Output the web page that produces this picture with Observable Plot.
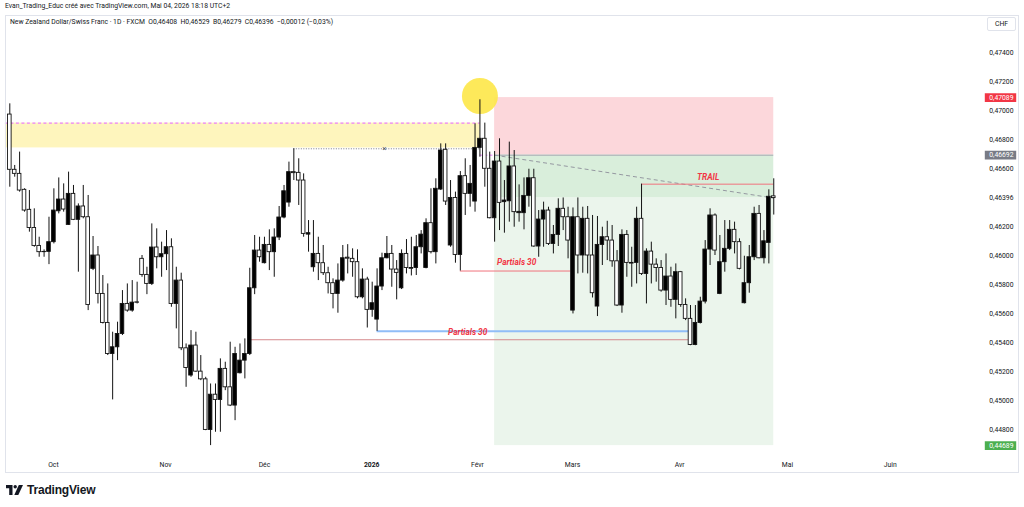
<!DOCTYPE html>
<html>
<head>
<meta charset="utf-8">
<script src="https://cdn.jsdelivr.net/npm/d3@7"></script>
<script src="https://cdn.jsdelivr.net/npm/@observablehq/plot@0.6"></script>
<style>
html,body{margin:0;padding:0;background:#fff;}
#wrap{position:relative;width:1024px;height:507px;overflow:hidden;font-family:Roboto,"Liberation Sans",sans-serif;color:#131722;}
#chart{position:absolute;left:0;top:0;}
#frame{position:absolute;left:5px;top:15px;width:1014px;height:458px;border:1px solid #e0e3eb;box-sizing:border-box;pointer-events:none;}
#credit{position:absolute;left:5px;top:1px;font-size:6.8px;line-height:10px;white-space:nowrap;}
#legend{position:absolute;left:10px;top:17px;font-size:6.8px;line-height:10px;white-space:nowrap;}
#chf{position:absolute;left:987px;top:17px;width:29px;height:14px;border:1px solid #e0e3eb;box-sizing:border-box;border-radius:2px;font-size:6.8px;line-height:12px;text-align:center;background:#fff;}
#logo{position:absolute;left:6px;top:483px;display:flex;align-items:center;gap:4px;font-family:"Liberation Sans",Roboto,sans-serif;font-weight:bold;font-size:12px;letter-spacing:-0.2px;color:#131722;}
</style>
</head>
<body>
<div id="wrap">
  <div id="chart"></div>
  <div id="frame"></div>
  <div id="credit">Evan_Trading_Educ créé avec TradingView.com, Mai 04, 2026 18:18 UTC+2</div>
  <div id="legend">New Zealand Dollar/Swiss Franc · 1D · FXCM &nbsp;O0,46408 &nbsp;H0,46529 &nbsp;B0,46279 &nbsp;C0,46396 &nbsp;−0,00012 (−0,03%)</div>
  <div id="chf">CHF</div>
  <div id="logo"><svg width="17" height="10" viewBox="0 0 17 10"><path d="M0 0H6.5V10H3.2V3.2H0Z" fill="#131722"/><circle cx="9.2" cy="1.7" r="1.7" fill="#131722"/><path d="M12.8 0H17L12.3 10H8.3Z" fill="#131722"/></svg><span>TradingView</span></div>
</div>
<script>
// ---- Daily candles NZD/CHF (index 0 = first visible bar, mid-Sept 2025) ----
const open = [0.46972,0.46591,0.46563,0.46453,0.46315,0.46190,0.46066,0.46023,0.46025,0.46092,
0.46305,0.46386,0.46211,0.46425,0.46246,0.46338,0.46264,0.45908,0.46000,0.45735,
0.45535,0.45321,0.45367,0.45459,0.45666,0.45620,0.45677,0.45977,0.45866,0.45804,
0.46055,0.45988,0.46009,0.46057,0.45666,0.45827,0.45360,0.45172,0.45379,0.45199,
0.45146,0.44797,0.45040,0.45004,0.45218,0.45091,0.44965,0.45188,0.45275,0.45321,
0.45774,0.46034,0.45947,0.46073,0.46023,0.46124,0.46262,0.46365,0.46575,0.46570,
0.46517,0.46144,0.45919,0.46011,0.45947,0.45878,0.45809,0.45735,0.45827,0.45985,
0.45977,0.45954,0.45712,0.45834,0.45625,0.45558,0.45786,0.45981,0.46011,0.45903,
0.45774,0.46011,0.45914,0.45914,0.46057,0.45914,0.46223,0.46023,0.46455,0.46729,
0.46069,0.46397,0.46004,0.46547,0.46425,0.46372,0.46742,0.46805,0.46598,0.46257,
0.46648,0.46368,0.46374,0.46614,0.46292,0.46292,0.46411,0.46533,0.46062,0.46248,
0.46310,0.46080,0.46142,0.46322,0.46264,0.45620,0.46264,0.46000,0.46253,0.46000,
0.45648,0.46073,0.46126,0.46103,0.45960,0.45655,0.46142,0.45949,0.45949,0.46253,
0.45873,0.46027,0.45937,0.45914,0.45758,0.45855,0.45694,0.45885,0.45659,0.45563,
0.45383,0.45535,0.45682,0.46041,0.46276,0.45735,0.45954,0.46046,0.46177,0.46092,
0.45671,0.45809,0.45988,0.46287,0.45981,0.46087,0.46408];
const high = [0.47046,0.46621,0.46713,0.46460,0.46448,0.46322,0.46126,0.46039,0.46264,0.46460,
0.46535,0.46494,0.46575,0.46483,0.46356,0.46483,0.46414,0.46131,0.46062,0.45862,
0.45804,0.45471,0.45540,0.45758,0.45804,0.45827,0.45816,0.46000,0.45919,0.46218,
0.46184,0.46092,0.46172,0.46115,0.45919,0.45878,0.45390,0.45482,0.45471,0.45310,
0.45160,0.45114,0.45114,0.45287,0.45264,0.45402,0.45367,0.45390,0.45425,0.45912,
0.46138,0.46126,0.46126,0.46177,0.46184,0.46338,0.46483,0.46644,0.46736,0.46667,
0.46563,0.46241,0.46241,0.46126,0.46069,0.45919,0.45839,0.45942,0.46069,0.46075,
0.46046,0.46039,0.45908,0.45850,0.45816,0.45908,0.46016,0.46131,0.46069,0.45965,
0.46039,0.46110,0.46126,0.46138,0.46172,0.46253,0.46460,0.46529,0.46770,0.46770,
0.46517,0.46437,0.46579,0.46667,0.46621,0.46908,0.47074,0.46913,0.46713,0.46717,
0.46805,0.46517,0.46782,0.46724,0.46487,0.46535,0.46595,0.46595,0.46310,0.46368,
0.46333,0.46207,0.46391,0.46397,0.46333,0.46328,0.46397,0.46333,0.46338,0.46276,
0.46269,0.46195,0.46236,0.46207,0.46034,0.46177,0.46172,0.46057,0.46333,0.46492,
0.46046,0.46092,0.45977,0.45965,0.46011,0.45919,0.45942,0.45890,0.45701,0.45655,
0.45655,0.45712,0.46103,0.46322,0.46287,0.46138,0.46241,0.46241,0.46230,0.46115,
0.45995,0.46069,0.46333,0.46345,0.46172,0.46453,0.46529];
const low = [0.46471,0.46540,0.46437,0.46299,0.46161,0.46057,0.45988,0.45988,0.45937,0.46080,
0.46287,0.46299,0.46207,0.46241,0.45885,0.46253,0.45620,0.45896,0.45666,0.45528,
0.45310,0.45004,0.45275,0.45448,0.45609,0.45609,0.45666,0.45850,0.45730,0.45793,
0.45908,0.45850,0.45896,0.45643,0.45494,0.45344,0.45091,0.45160,0.45195,0.45137,
0.44792,0.44689,0.44781,0.44781,0.45068,0.44958,0.44861,0.45183,0.45149,0.45310,
0.45730,0.45954,0.45942,0.45896,0.45850,0.46103,0.46253,0.46333,0.46517,0.46345,
0.46126,0.46023,0.45885,0.45827,0.45862,0.45735,0.45632,0.45602,0.45816,0.45873,
0.45850,0.45701,0.45701,0.45500,0.45574,0.45477,0.45758,0.45977,0.45781,0.45694,
0.45765,0.45873,0.45859,0.45862,0.46011,0.45908,0.46011,0.45942,0.46448,0.46345,
0.46057,0.45947,0.45893,0.46276,0.46333,0.46299,0.46678,0.46471,0.46253,0.46092,
0.46172,0.46154,0.46230,0.46195,0.46230,0.46177,0.46333,0.46057,0.45988,0.46057,
0.46069,0.46011,0.46062,0.46172,0.45977,0.45597,0.45873,0.45878,0.45873,0.45707,
0.45579,0.45931,0.45965,0.45919,0.45648,0.45602,0.45850,0.45781,0.45804,0.45862,
0.45666,0.45804,0.45816,0.45747,0.45655,0.45643,0.45563,0.45643,0.45551,0.45378,
0.45378,0.45528,0.45666,0.45931,0.46000,0.45730,0.45885,0.46034,0.46011,0.45901,
0.45666,0.45740,0.45965,0.45977,0.45942,0.45942,0.46279];
const close = [0.46591,0.46563,0.46448,0.46310,0.46190,0.46066,0.46023,0.46025,0.46092,0.46310,
0.46386,0.46317,0.46425,0.46246,0.46338,0.46264,0.45659,0.46000,0.45735,0.45535,
0.45321,0.45367,0.45459,0.45666,0.45620,0.45675,0.45674,0.45866,0.45804,0.46055,
0.45988,0.46009,0.46057,0.45666,0.45827,0.45360,0.45224,0.45379,0.45199,0.45146,
0.44797,0.45040,0.45004,0.45218,0.45091,0.44965,0.45321,0.45275,0.45321,0.45774,
0.46034,0.45988,0.46073,0.46023,0.46124,0.46262,0.46443,0.46575,0.46568,0.46517,
0.46149,0.46154,0.46011,0.45947,0.45878,0.45809,0.45735,0.45827,0.45981,0.45978,
0.45954,0.45712,0.45834,0.45625,0.45671,0.45786,0.45981,0.46011,0.45903,0.45880,
0.46011,0.45914,0.45908,0.46057,0.46144,0.46223,0.46023,0.46460,0.46724,0.46372,
0.46397,0.46004,0.46547,0.46425,0.46494,0.46742,0.46805,0.46598,0.46257,0.46648,
0.46363,0.46379,0.46614,0.46299,0.46301,0.46411,0.46533,0.46062,0.46248,0.46310,
0.46080,0.46142,0.46322,0.46264,0.46103,0.46264,0.46000,0.46253,0.46000,0.45740,
0.46073,0.46126,0.46103,0.45960,0.45655,0.46142,0.45949,0.45944,0.46253,0.45873,
0.46027,0.45937,0.45914,0.45758,0.45855,0.45694,0.45885,0.45659,0.45563,0.45383,
0.45535,0.45682,0.46041,0.46276,0.46034,0.45954,0.46046,0.46177,0.46092,0.45908,
0.45809,0.45988,0.46287,0.45981,0.46098,0.46405,0.46396];

// ---- time axis (bar-index positions of month starts) ----
const monthPos = [8.9, 31.8, 52.0, 95.5, 114.9, 136.8, 158.8, 179.8];
const monthLab = ["Oct", "Nov", "Déc", "Févr", "Mars", "Avr", "Mai", "Juin"];
const yearPos = [73.9];
const yearLab = ["2026"];

// ---- price axis ----
const priceTicks = [0.474, 0.472, 0.470, 0.468, 0.466, 0.46396, 0.462, 0.460, 0.458, 0.456, 0.454, 0.452, 0.450, 0.448];
const tagValues = [0.47089, 0.46692, 0.44689];
const tagColors = ["#f23645", "#787b86", "#4caf50"];

// ---- drawings ----
const zoneFrom = -0.9, zoneTo = 96, zoneLow = 0.46742, zoneHigh = 0.46913;
const posStart = 99, posEnd = 156, posStop = 0.47089, posEntry = 0.46692, posTarget = 0.44689, posLast = 0.46396;
const peakBar = 96, peakPrice = 0.47100;
const dottedFrom = 58, dottedTo = 96, dottedLevel = 0.46736, crossBar = 76.5;
const redFrom = [92, 129], redTo = [114.6, 156], redLevel = [0.45893, 0.46492];
const mutedFrom = 49, mutedTo = 138.6, mutedLevel = 0.45419;
const blueFrom = 75, blueTo = 139.35, blueLevel = 0.45478;
const noteText = ["TRAIL", "Partials 30", "Partials 30"];
const noteBar = [142.6, 103.5, 93.5];
const notePrice = [0.46540, 0.45952, 0.45472];

// ---- tables ----
const candles = open.map((o, i) => ({i, open: o, high: high[i], low: low[i], close: close[i]}));
const tags = tagValues.map((v, i) => ({value: v, color: tagColors[i]}));
const zone = [{x1: zoneFrom, x2: zoneTo, y1: zoneLow, y2: zoneHigh}];
const pos = {x1: posStart, x2: posEnd};
const redLines = redLevel.map((v, i) => ({x1: redFrom[i], x2: redTo[i], y: v}));
const notes = noteText.map((t, i) => ({text: t, x: noteBar[i], y: notePrice[i]}));
const fmt = v => v.toFixed(5).replace(".", ",");
const font = "Roboto, 'Liberation Sans', sans-serif";
const tagSymbol = {draw(ctx) { ctx.moveTo(-15.7, -4.3); ctx.lineTo(15.7, -4.3); ctx.lineTo(15.7, 4.3); ctx.lineTo(-15.7, 4.3); ctx.closePath(); }};

const chart = Plot.plot({
  width: 1024,
  height: 507,
  marginLeft: 5,
  marginRight: 84,
  marginTop: 15,
  marginBottom: 52,
  style: {background: "transparent", fontFamily: font, color: "#131722", overflow: "visible"},
  x: {domain: [-0.88, 190.05]},
  y: {domain: [0.446207, 0.476552]},
  marks: [
    // position tool
    Plot.rect([{...pos, y1: posEntry, y2: posStop}], {x1: "x1", x2: "x2", y1: "y1", y2: "y2", fill: "#fcd7db"}),
    Plot.rect([{...pos, y1: posLast, y2: posEntry}], {x1: "x1", x2: "x2", y1: "y1", y2: "y2", fill: "#d9eedb"}),
    Plot.rect([{...pos, y1: posTarget, y2: posLast}], {x1: "x1", x2: "x2", y1: "y1", y2: "y2", fill: "#ebf5ec"}),
    Plot.ruleY([posEntry], {x1: posStart, x2: posEnd, stroke: "#a3a6af", strokeWidth: 1}),
    Plot.ruleY([posEntry], {x1: peakBar, x2: posStart, stroke: "#e67cf5", strokeDasharray: "3,2", strokeWidth: 1}),
    Plot.link([{x1: posStart, y1: posEntry, x2: posEnd, y2: posLast}], {x1: "x1", y1: "y1", x2: "x2", y2: "y2", stroke: "#9598a1", strokeDasharray: "4,3", strokeWidth: 1}),
    // supply zone
    Plot.rect(zone, {x1: "x1", x2: "x2", y1: "y1", y2: "y2", fill: "#fef5bd"}),
    Plot.ruleY([zoneHigh], {x1: zoneFrom, x2: zoneTo, stroke: "#ea80fc", strokeDasharray: "3,2.5", strokeWidth: 1.2}),
    Plot.ruleY([dottedLevel], {x1: dottedFrom, x2: dottedTo, stroke: "#787b86", strokeDasharray: "1,1.5", strokeWidth: 1}),
    Plot.text([dottedLevel], {x: crossBar, y: d => d, text: () => "×", fill: "#555", fontSize: 8}),
    // peak marker
    Plot.dot([{x: peakBar, y: peakPrice}], {x: "x", y: "y", r: 18, fill: "#fde74c", fillOpacity: 0.92}),
    // levels
    Plot.ruleY([mutedLevel], {x1: mutedFrom, x2: mutedTo, stroke: "#d58a8d", strokeWidth: 1}),
    Plot.ruleY([blueLevel], {x1: blueFrom, x2: blueTo, stroke: "#90bdf7", strokeWidth: 2}),
    Plot.ruleY(redLines, {x1: "x1", x2: "x2", y: "y", stroke: "#f0727d", strokeWidth: 1}),
    // candles
    Plot.ruleX(candles, {x: "i", y1: "low", y2: "high", stroke: "#131313", strokeWidth: 1}),
    Plot.rect(candles, {
      x1: d => d.i - 0.37, x2: d => d.i + 0.37, y1: "open", y2: "close",
      fill: d => d.close > d.open ? "#000000" : "#ffffff", stroke: "#131313", strokeWidth: 0.9
    }),
    // notes
    Plot.text(notes, {x: "x", y: "y", text: "text", fill: "#f23645", fontWeight: "bold", fontStyle: "italic", fontSize: 8.3, letterSpacing: "0.6px"}),
    // axes
    Plot.axisX(monthPos, {tickSize: 0, tickPadding: 7, fontSize: 6.8, tickFormat: d => monthLab[monthPos.indexOf(d)]}),
    Plot.axisX(yearPos, {tickSize: 0, tickPadding: 7, fontSize: 6.8, fontWeight: "bold", tickFormat: d => yearLab[yearPos.indexOf(d)]}),
    Plot.axisY(priceTicks, {anchor: "right", tickSize: 0, tickPadding: 73, textAnchor: "end", fontSize: 6.8, tickFormat: fmt}),
    // price tags
    Plot.dot(tags, {y: "value", frameAnchor: "right", dx: 60, symbol: tagSymbol, fill: "color", stroke: "none"}),
    Plot.text(tags, {y: "value", frameAnchor: "right", dx: 73, textAnchor: "end", text: d => fmt(d.value), fill: "#ffffff", fontSize: 6.8})
  ]
});
document.getElementById("chart").appendChild(chart);
</script>
</body>
</html>
